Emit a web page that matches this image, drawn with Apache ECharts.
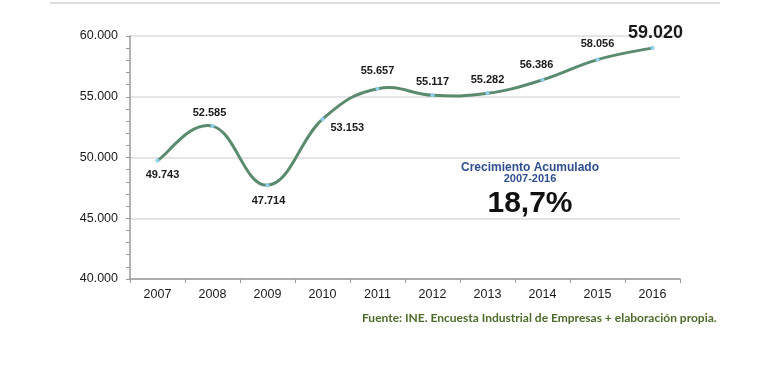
<!DOCTYPE html>
<html>
<head>
<meta charset="utf-8">
<script src="https://cdn.jsdelivr.net/npm/echarts@6/dist/echarts.min.js"></script>
<style>html,body{margin:0;padding:0;background:#fff;}#c{width:770px;height:370px;}</style>
</head>
<body>
<div id="c"></div>
<script>
var years = ['2007','2008','2009','2010','2011','2012','2013','2014','2015','2016'];
var values = [49743, 52585, 47714, 53153, 55657, 55117, 55282, 56386, 58056, 59020];
var yTicks = [40000, 45000, 50000, 55000, 60000];
var growthTitle = 'Crecimiento Acumulado';
var growthPeriod = '2007-2016';
var growthValue = '18,7%';
var sourceText = 'Fuente: INE. Encuesta Industrial de Empresas + elaboración propia.';

function fmt(v){ return String(v).replace(/\B(?=(\d{3})+(?!\d))/g, '.'); }

var labelCfg = [
  {position:'bottom', offset:[5,1]},
  {position:'top', offset:[-3,0]},
  {position:'bottom', offset:[1,2]},
  {position:'right', offset:[0,9]},
  {position:'top', offset:[0,-4]},
  {position:'top', offset:[0,0]},
  {position:'top', offset:[0,0]},
  {position:'top', offset:[-6,-1]},
  {position:'top', offset:[0,-2]},
  {position:'top', offset:[3,2], fontSize:18}
];

var seriesData = values.map(function(v,i){
  var c = labelCfg[i];
  var lab = {show:true, position:c.position, offset:c.offset, distance:6};
  if (c.fontSize) lab.fontSize = c.fontSize;
  return {value:v, label:lab};
});

// Excel-like (Catmull-Rom) smoothed segments drawn through the axis scales
function renderSegment(params, api){
  var i = params.dataIndex;
  var n = values.length;
  if (i >= n - 1) return null;
  var p = function(k){ k = Math.max(0, Math.min(n-1, k)); return api.coord([k, values[k]]); };
  var p0 = p(i-1), p1 = p(i), p2 = p(i+1), p3 = p(i+2);
  var t = 0.21;
  return {
    type:'bezierCurve',
    shape:{
      x1:p1[0], y1:p1[1], x2:p2[0], y2:p2[1],
      cpx1:p1[0] + (p2[0]-p0[0])*t, cpy1:p1[1] + (p2[1]-p0[1])*t,
      cpx2:p2[0] - (p3[0]-p1[0])*t, cpy2:p2[1] - (p3[1]-p1[1])*t
    },
    style:{stroke:'#5b8b6f', lineWidth:3, fill:null, lineCap:'round'}
  };
}

var chart = echarts.init(document.getElementById('c'), null, {renderer:'canvas'});
chart.setOption({
  animation:false,
  backgroundColor:'#fff',
  grid:{left:130, right:90, top:36, bottom:91},
  xAxis:{
    type:'category', data:years, boundaryGap:true,
    axisLine:{lineStyle:{color:'#9a9a9a', width:1.5}},
    axisTick:{show:true, interval:0, length:4, lineStyle:{color:'#9a9a9a'}},
    axisLabel:{color:'#1a1a1a', fontSize:12.5, fontFamily:'Liberation Sans, Arial', margin:9}
  },
  yAxis:{
    type:'value', min:yTicks[0], max:yTicks[yTicks.length-1], interval:5000,
    axisLine:{show:true, lineStyle:{color:'#9a9a9a', width:1.5}},
    axisTick:{show:true, length:4, lineStyle:{color:'#9a9a9a'}},
    minorTick:{show:true, splitNumber:5, length:4, lineStyle:{color:'#9a9a9a'}},
    splitLine:{show:true, lineStyle:{color:'#dcdcdc', width:1.5}},
    axisLabel:{color:'#1a1a1a', fontSize:12.5, fontFamily:'Liberation Sans, Arial', margin:12, formatter:function(v){return fmt(v);}}
  },
  series:[{
    type:'custom', z:2,
    data:values.map(function(v,i){return [i, v];}),
    encode:{x:0, y:1},
    renderItem:renderSegment
  },{
    type:'line', data:seriesData, z:3,
    lineStyle:{width:0, opacity:0},
    symbol:'circle', symbolSize:4, showAllSymbol:true,
    itemStyle:{color:'#8fd0ee'},
    label:{color:'#1a1a1a', fontWeight:'bold', fontSize:11, fontFamily:'Liberation Sans, Arial',
      formatter:function(p){return fmt(p.value);}}
  }],
  graphic:[
    {type:'line', shape:{x1:50,y1:3,x2:720,y2:3}, style:{stroke:'#dddddd', lineWidth:2}},
    {type:'text', style:{x:530, y:168, text:growthTitle, fill:'#2f4e8e', font:'bold 12px "Liberation Sans", Arial', textAlign:'center', textVerticalAlign:'middle'}},
    {type:'text', style:{x:530, y:179, text:growthPeriod, fill:'#2f4e8e', font:'bold 11px "Liberation Sans", Arial', textAlign:'center', textVerticalAlign:'middle'}},
    {type:'text', style:{x:530, y:204, text:growthValue, fill:'#111', font:'bold 30px "Liberation Sans", Arial', textAlign:'center', textVerticalAlign:'middle'}},
    {type:'text', style:{x:362, y:318, text:sourceText, fill:'#4e6b29', font:'bold 12px Lato, sans-serif', textAlign:'left', textVerticalAlign:'middle'}}
  ]
});
</script>
</body>
</html>
